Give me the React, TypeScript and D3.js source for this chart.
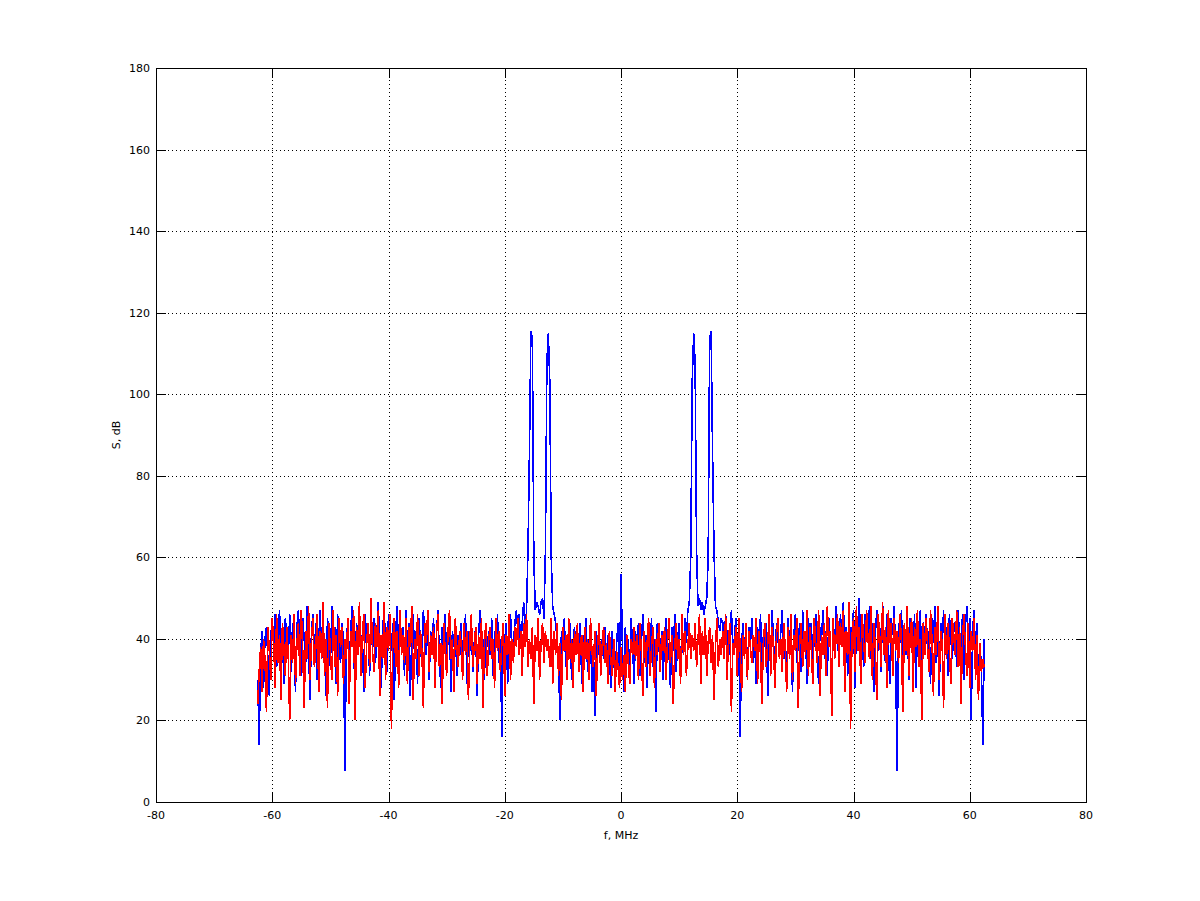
import React from 'react';
import * as d3 from 'd3';

// Frequency grid of the spectrum (MHz)
const F_START = -62.5;
const F_STEP = 0.25;

// Blue trace (dB), one value per 0.25 MHz from -62.5 to 62.5
const blueDb: number[] = [
  30, 14, 36, 42, 28, 40, 43, 35, 26, 41, 44, 38, 46, 33, 40, 47, 36, 42, 29, 45,
  41, 35, 46, 32, 44, 39, 27, 43, 47, 37, 31, 45, 40, 34, 48, 38, 25, 42, 46, 36,
  44, 30, 40, 47, 35, 42, 38, 26, 45, 41, 33, 48, 37, 43, 29, 46, 39, 34, 44, 40,
  7.5, 38, 45, 33, 42, 48, 36, 29, 44, 40, 47, 35, 41, 27, 46, 39, 43, 31, 48, 37,
  45, 34, 41, 49, 36, 28, 43, 47, 39, 32, 46, 40, 37, 44, 25, 42, 48, 35, 41, 38,
  43, 31, 47, 38, 44, 26, 40, 46, 35, 42, 29, 45, 39, 33, 47, 41, 36, 44, 30, 42,
  37, 45, 32, 41, 47, 36, 28, 43, 39, 46, 34, 40, 44, 27, 42, 38, 45, 31, 41, 36,
  44, 33, 40, 46, 29, 42, 37, 45, 32, 39, 43, 26, 41, 47, 35, 40, 30, 44, 38, 42,
  36, 45, 31, 42, 38, 46, 34, 40, 16, 43, 37, 44, 29, 41, 46, 35, 39, 44, 47, 42,
  46, 38, 44, 49, 42, 47, 62, 86, 115.5, 113.5, 60, 47, 49, 48, 46, 49, 50, 45, 62, 108,
  115, 103, 60, 48, 46, 44, 40, 35, 20, 42, 38, 45, 33, 41, 37, 44, 30, 39, 43, 36,
  40, 34, 44, 29, 41, 37, 45, 32, 39, 43, 27, 38, 21, 42, 36, 44, 31, 40, 35, 43,
  33, 41, 37, 28, 42, 35, 30, 39, 44, 31, 56, 38, 27, 43, 36, 40, 32, 45, 38, 29,
  42, 36, 44, 31, 39, 46, 34, 41, 28, 43, 37, 45, 33, 40, 22, 44, 38, 35, 42, 30,
  41, 45, 34, 39, 28, 43, 37, 46, 32, 40, 44, 30, 42, 36, 45, 39, 47, 49, 60, 103,
  115, 108, 62, 48, 50, 47, 49, 46, 48, 50, 60, 113.5, 115.5, 86, 62, 48, 47, 44, 42, 45,
  44, 38, 46, 41, 35, 43, 47, 37, 40, 45, 33, 42, 16, 39, 44, 36, 41, 30, 43, 38,
  45, 34, 40, 29, 43, 37, 46, 32, 41, 38, 44, 26, 42, 35, 47, 39, 31, 44, 40, 36,
  42, 47, 35, 40, 30, 45, 38, 43, 27, 41, 46, 34, 39, 44, 32, 47, 37, 42, 29, 45,
  38, 44, 33, 41, 46, 36, 29, 43, 40, 47, 35, 42, 31, 45, 39, 26, 44, 37, 48, 41,
  34, 46, 40, 49, 37, 43, 31, 48, 35, 42, 47, 28, 44, 39, 50, 36, 41, 33, 46, 42,
  39, 48, 35, 44, 27, 41, 47, 37, 43, 32, 49, 40, 34, 46, 38, 29, 45, 41, 48, 36,
  7.5, 44, 39, 47, 33, 42, 36, 48, 30, 45, 40, 35, 46, 28, 43, 38, 47, 32, 44, 41,
  46, 37, 42, 29, 45, 39, 48, 34, 41, 26, 44, 38, 47, 36, 43, 31, 46, 40, 35, 42,
  44, 33, 47, 40, 36, 46, 30, 43, 48, 38, 45, 20, 42, 47, 35, 44, 28, 39, 33, 14,
  40,
];

// Red trace (dB), same frequency grid
const redDb: number[] = [
  24, 32, 38, 27, 40, 35, 22, 43, 37, 30, 45, 39, 28, 46, 34, 41, 25, 44, 38, 31,
  43, 36, 20, 41, 34, 46, 29, 39, 44, 31, 47, 37, 23, 42, 35, 48, 30, 40, 45, 33,
  38, 46, 27, 42, 35, 49, 31, 40, 23, 44, 37, 30, 47, 33, 41, 26, 45, 38, 43, 29,
  40, 35, 45, 24, 42, 38, 47, 20, 43, 36, 49, 31, 41, 46, 28, 39, 44, 33, 50, 37,
  32, 44, 38, 47, 26, 41, 35, 49, 30, 43, 37, 46, 18, 40, 45, 33, 42, 28, 47, 36,
  41, 34, 45, 29, 43, 38, 48, 25, 40, 35, 46, 31, 42, 37, 23, 44, 39, 47, 32, 41,
  36, 43, 28, 41, 46, 33, 39, 24, 44, 37, 31, 42, 47, 35, 40, 27, 45, 38, 33, 42,
  39, 30, 44, 36, 42, 25, 40, 46, 33, 38, 43, 29, 41, 35, 45, 23, 39, 44, 31, 40,
  43, 35, 40, 28, 45, 37, 42, 32, 39, 44, 26, 41, 36, 46, 30, 40, 34, 43, 38, 45,
  36, 42, 31, 44, 38, 46, 33, 40, 35, 43, 24, 41, 37, 45, 30, 39, 44, 34, 42, 37,
  40, 33, 45, 29, 42, 36, 44, 31, 39, 25, 43, 37, 41, 30, 45, 35, 40, 28, 42, 36,
  44, 32, 39, 41, 27, 43, 35, 40, 30, 45, 37, 33, 42, 26, 39, 44, 31, 38, 43, 34,
  39, 29, 42, 35, 31, 40, 27, 37, 33, 28, 38, 30, 36, 27, 41, 34, 29, 40, 36, 43,
  35, 41, 30, 44, 37, 26, 42, 33, 39, 45, 31, 38, 43, 28, 40, 36, 44, 32, 41, 37,
  43, 30, 39, 45, 34, 41, 24, 38, 44, 35, 40, 29, 46, 36, 42, 31, 38, 44, 35, 41,
  37, 44, 33, 40, 46, 29, 42, 36, 45, 31, 39, 43, 34, 41, 25, 38, 45, 33, 40, 36,
  42, 35, 46, 30, 40, 44, 22, 39, 36, 43, 31, 45, 38, 27, 41, 35, 44, 30, 42, 38,
  34, 41, 37, 45, 29, 42, 36, 24, 40, 44, 33, 39, 46, 31, 43, 37, 28, 41, 45, 35,
  40, 32, 44, 38, 27, 43, 35, 46, 30, 41, 37, 45, 23, 39, 44, 33, 42, 36, 47, 31,
  43, 37, 29, 45, 39, 34, 47, 26, 41, 36, 44, 31, 48, 38, 42, 21, 45, 35, 40, 46,
  33, 44, 38, 47, 27, 42, 36, 49, 18, 41, 45, 32, 48, 37, 43, 29, 46, 39, 34, 47,
  40, 35, 48, 30, 44, 38, 25, 46, 41, 33, 49, 36, 43, 28, 47, 39, 44, 31, 45, 37,
  42, 34, 46, 39, 22, 44, 37, 48, 31, 41, 45, 27, 43, 38, 47, 33, 40, 20, 44, 36,
  45, 38, 32, 47, 40, 26, 43, 36, 48, 30, 42, 39, 23, 46, 35, 44, 37, 29, 45, 41,
  36, 47, 33, 43, 24, 40, 46, 38, 31, 44, 28, 42, 37, 45, 30, 41, 25, 39, 32, 35,
  33,
];

const xTicks = [-80, -60, -40, -20, 0, 20, 40, 60, 80];
const yTicks = [0, 20, 40, 60, 80, 100, 120, 140, 160, 180];
const xLabel = 'f, MHz';
const yLabel = 'S, dB';

const W = 1200;
const H = 901;
const L = 156;
const R = 1086;
const T = 68;
const B = 802;
const TICK = 10;
const FONT = '"DejaVu Sans", sans-serif';

export default function App() {
  const x = d3.scaleLinear().domain([-80, 80]).range([L, R]);
  const y = d3.scaleLinear().domain([0, 180]).range([B, T]);
  const line = d3
    .line<number>()
    .x((_, i) => x(F_START + i * F_STEP))
    .y((d) => y(d));

  const px = (v: number) => Math.round(v) + 0.5;

  return (
    <svg
      width={W}
      height={H}
      style={{ position: 'absolute', left: 0, top: 0, background: '#fff' }}
      fontFamily={FONT}
    >
      <rect x={0} y={0} width={W} height={H} fill="#fff" />
      {/* grid */}
      <g stroke="#000" strokeWidth={1} strokeDasharray="1,3" shapeRendering="crispEdges">
        {xTicks.slice(1, -1).map((t) => (
          <line key={'gx' + t} x1={px(x(t))} x2={px(x(t))} y1={T} y2={B} />
        ))}
        {yTicks.slice(1, -1).map((t) => (
          <line key={'gy' + t} x1={L} x2={R} y1={px(y(t))} y2={px(y(t))} />
        ))}
      </g>
      {/* data */}
      <path
        d={line(blueDb) || ''}
        fill="none"
        stroke="#0000ff"
        strokeWidth={1.6}
        strokeLinejoin="miter"
        strokeMiterlimit={2}
        shapeRendering="crispEdges"
      />
      <path
        d={line(redDb) || ''}
        fill="none"
        stroke="#ff0000"
        strokeWidth={1.6}
        strokeLinejoin="miter"
        strokeMiterlimit={2}
        shapeRendering="crispEdges"
      />
      {/* axes box */}
      <rect
        x={L + 0.5}
        y={T + 0.5}
        width={R - L}
        height={B - T}
        fill="none"
        stroke="#000"
        strokeWidth={1}
        shapeRendering="crispEdges"
      />
      {/* ticks */}
      <g stroke="#000" strokeWidth={1} shapeRendering="crispEdges">
        {xTicks.map((t) => (
          <g key={'tx' + t}>
            <line x1={px(x(t))} x2={px(x(t))} y1={B} y2={B - TICK} />
            <line x1={px(x(t))} x2={px(x(t))} y1={T} y2={T + TICK} />
          </g>
        ))}
        {yTicks.map((t) => (
          <g key={'ty' + t}>
            <line x1={L} x2={L + TICK} y1={px(y(t))} y2={px(y(t))} />
            <line x1={R} x2={R - TICK} y1={px(y(t))} y2={px(y(t))} />
          </g>
        ))}
      </g>
      {/* tick labels */}
      <g fontSize={11} fill="#000">
        {xTicks.map((t) => (
          <text key={'lx' + t} x={x(t)} y={B + 17} textAnchor="middle">
            {t}
          </text>
        ))}
        {yTicks.map((t) => (
          <text key={'ly' + t} x={L - 6} y={y(t) + 4} textAnchor="end">
            {t}
          </text>
        ))}
      </g>
      <text x={x(0)} y={B + 37} textAnchor="middle" fontSize={11} fill="#000">
        {xLabel}
      </text>
      <text
        transform={`translate(120, ${(T + B) / 2}) rotate(-90)`}
        textAnchor="middle"
        fontSize={11}
        fill="#000"
      >
        {yLabel}
      </text>
    </svg>
  );
}
